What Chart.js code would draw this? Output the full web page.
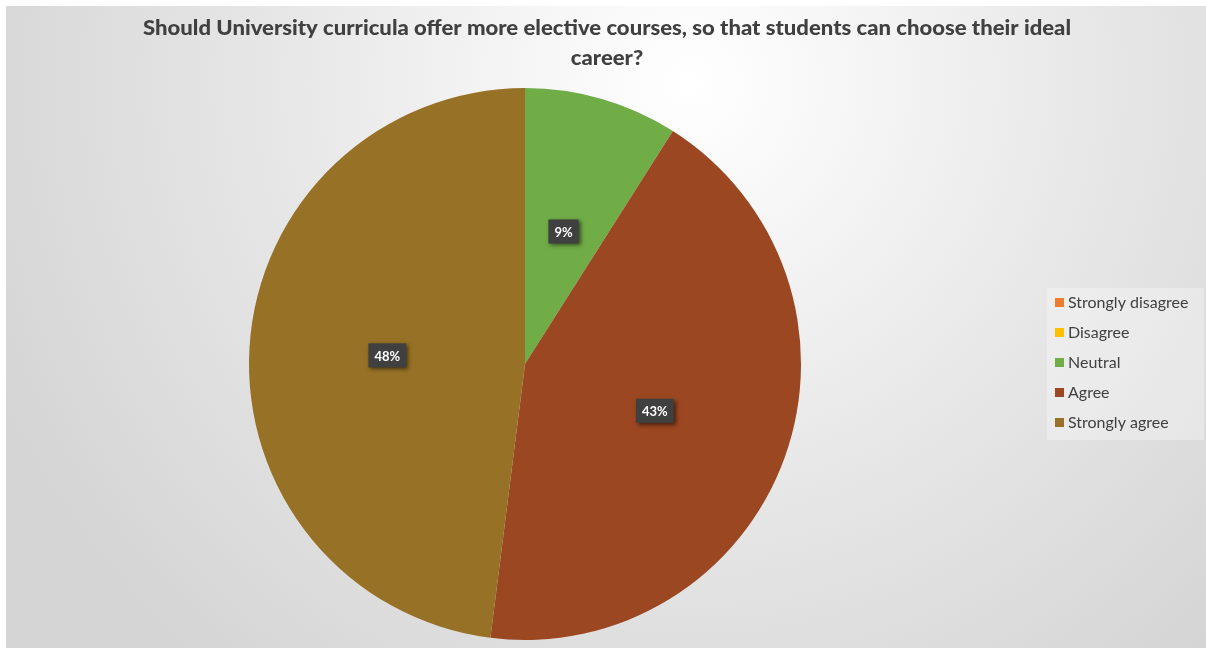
<!DOCTYPE html>
<html>
<head>
<meta charset="utf-8">
<script src="https://cdn.jsdelivr.net/npm/chart.js@4.4.1/dist/chart.umd.min.js"></script>
<style>
  html, body { margin: 0; padding: 0; background: #fff; }
  #wrap {
    position: absolute; left: 6px; top: 6px; width: 1200px; height: 642px;
    background: radial-gradient(circle at 57% 12%, #ffffff 0%, #f7f7f7 16%, #e7e7e7 46%, #d5d5d5 85%);
  }
</style>
</head>
<body>
<div id="wrap"><canvas id="pieChart" width="1200" height="642"></canvas></div>
<script>
const titleLines = [
  'Should University curricula offer more elective courses, so that students can choose their ideal',
  'career?'
];
const categories = ['Strongly disagree', 'Disagree', 'Neutral', 'Agree', 'Strongly agree'];
const shares = [0, 0, 9, 43, 48];
const sliceColors = ['#ED7D31', '#FFC000', '#70AD47', '#9B4722', '#977226'];

// title, legend and the dark value badges are drawn on the canvas here
const decorations = {
  id: 'decorations',
  afterDatasetsDraw(chart) {
    const ctx = chart.ctx;
    const meta = chart.getDatasetMeta(0);
    ctx.save();
    ctx.font = 'bold 13px Lato, "DejaVu Sans", sans-serif';
    ctx.textAlign = 'center';
    ctx.textBaseline = 'middle';
    meta.data.forEach((arc, i) => {
      const v = chart.data.datasets[0].data[i];
      if (!v) return;
      const p = arc.getCenterPoint();
      const txt = v + '%';
      const w = ctx.measureText(txt).width + 12;
      const h = 24;
      ctx.save();
      ctx.shadowColor = 'rgba(0,0,0,0.55)';
      ctx.shadowBlur = 4;
      ctx.shadowOffsetX = 2;
      ctx.shadowOffsetY = 2;
      ctx.fillStyle = '#404040';
      ctx.fillRect(p.x - w / 2, p.y - h / 2, w, h);
      ctx.restore();
      ctx.fillStyle = '#ffffff';
      ctx.fillText(txt, p.x, p.y + 1);
    });
    ctx.restore();
  },
  afterDraw(chart) {
    const ctx = chart.ctx;
    ctx.save();
    // title
    ctx.fillStyle = '#404040';
    ctx.textAlign = 'center';
    ctx.textBaseline = 'middle';
    ctx.font = '900 20px Lato, sans-serif';
    const fit = 928 / ctx.measureText(titleLines[0]).width;
    ctx.translate(601, 0);
    ctx.scale(fit, 1);
    ctx.fillText(titleLines[0], 0, 23);
    ctx.fillText(titleLines[1], 0, 53);
    ctx.restore();

    // legend
    ctx.save();
    ctx.fillStyle = 'rgba(255,255,255,0.3)';
    ctx.fillRect(1041, 282, 157, 152);
    ctx.font = '16px Lato, sans-serif';
    ctx.textBaseline = 'middle';
    ctx.textAlign = 'left';
    categories.forEach((name, i) => {
      const y = 297 + i * 30;
      ctx.fillStyle = sliceColors[i];
      ctx.fillRect(1049, y - 5, 9, 9);
      ctx.fillStyle = '#404040';
      ctx.fillText(name, 1062, y);
    });
    ctx.restore();
  }
};

const pieCanvas = document.getElementById('pieChart');

const pieChart = new Chart(pieCanvas, {
  type: 'pie',
  data: {
    labels: categories,
    datasets: [{
      data: shares,
      backgroundColor: sliceColors,
      borderWidth: 0
    }]
  },
  options: {
    responsive: false,
    animation: false,
    layout: {
      padding: { left: 243, right: 405, top: 82, bottom: 8 }
    },
    plugins: {
      legend: { display: false },
      title: { display: false },
      tooltip: { enabled: false }
    }
  },
  plugins: [decorations]
});
</script>
</body>
</html>
